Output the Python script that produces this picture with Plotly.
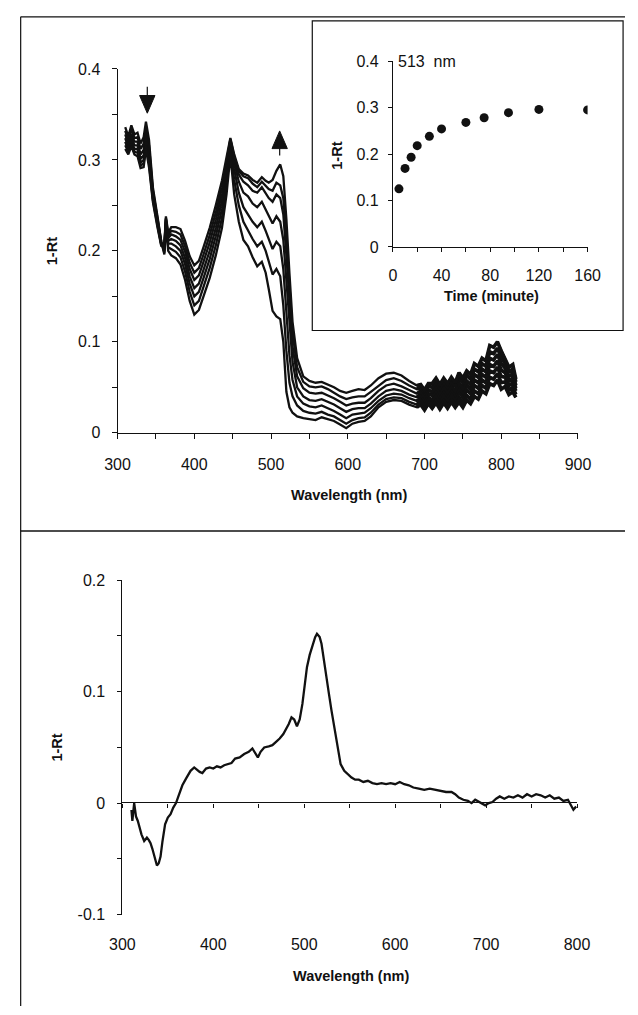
import plotly.graph_objects as go

FIG_W, FIG_H = 638, 1015

# ---------------- data: top panel (reflectance spectra at successive times) ----------------
wavelength_top = [
    310, 314, 318, 322, 326, 330, 334, 337, 341, 346,
    352, 357, 361, 363, 366, 370, 376, 382, 388, 394,
    400, 406, 412, 420, 428, 436, 442, 447, 452, 458,
    464, 470, 476, 482, 488, 493, 497, 502, 507, 512,
    516, 520, 524, 528, 534, 542, 550, 558, 566, 574,
    582, 590, 598, 606, 614, 622, 630, 640, 650, 660,
    670, 680, 690,
    695, 700, 705, 710, 715, 720, 725, 730, 735, 740,
    745, 750, 755, 760, 765, 770, 775, 780, 785, 790,
    795, 800, 805, 810, 815, 819,
]

spec_1 = [
    0.336, 0.326, 0.338, 0.328, 0.330, 0.318, 0.325, 0.342, 0.322, 0.270,
    0.238, 0.210, 0.196, 0.228, 0.200, 0.195, 0.192, 0.185, 0.168, 0.145,
    0.130, 0.135, 0.150, 0.170, 0.195, 0.225, 0.262, 0.305, 0.262, 0.232,
    0.212, 0.205, 0.193, 0.183, 0.188, 0.176, 0.158, 0.134, 0.128, 0.125,
    0.100, 0.045, 0.028, 0.022, 0.018, 0.016, 0.015, 0.014, 0.017, 0.015,
    0.013, 0.009, 0.005, 0.010, 0.012, 0.013, 0.018, 0.028, 0.034, 0.036,
    0.035, 0.031, 0.028,
    0.031, 0.025, 0.032, 0.027, 0.033, 0.026, 0.033, 0.027, 0.034, 0.028,
    0.034, 0.028, 0.036, 0.032, 0.040, 0.037, 0.046, 0.043, 0.054, 0.052,
    0.058, 0.048, 0.051, 0.042, 0.045, 0.039,
]
spec_2 = [
    0.332, 0.322, 0.334, 0.324, 0.325, 0.312, 0.318, 0.336, 0.316, 0.267,
    0.236, 0.210, 0.198, 0.230, 0.204, 0.202, 0.199, 0.193, 0.177, 0.155,
    0.140, 0.145, 0.160, 0.181, 0.206, 0.236, 0.272, 0.312, 0.278, 0.250,
    0.232, 0.222, 0.213, 0.205, 0.210, 0.200, 0.188, 0.174, 0.180, 0.172,
    0.140, 0.090, 0.055, 0.040, 0.030, 0.024, 0.022, 0.021, 0.023, 0.020,
    0.018, 0.014, 0.010, 0.014, 0.016, 0.017, 0.022, 0.031, 0.037, 0.039,
    0.038, 0.034, 0.031,
    0.035, 0.029, 0.036, 0.032, 0.038, 0.031, 0.038, 0.032, 0.039, 0.033,
    0.039, 0.033, 0.041, 0.037, 0.046, 0.043, 0.052, 0.049, 0.061, 0.059,
    0.065, 0.055, 0.056, 0.047, 0.050, 0.042,
]
spec_3 = [
    0.328, 0.318, 0.329, 0.320, 0.320, 0.306, 0.311, 0.330, 0.310, 0.264,
    0.234, 0.209, 0.200, 0.232, 0.208, 0.208, 0.205, 0.200, 0.185, 0.164,
    0.150, 0.155, 0.170, 0.191, 0.216, 0.246, 0.280, 0.317, 0.290, 0.264,
    0.248, 0.240, 0.232, 0.226, 0.232, 0.222, 0.212, 0.202, 0.210, 0.205,
    0.180, 0.130, 0.085, 0.058, 0.040, 0.032, 0.029, 0.028, 0.030, 0.027,
    0.024, 0.020, 0.016, 0.020, 0.021, 0.022, 0.027, 0.035, 0.041, 0.043,
    0.042, 0.038, 0.035,
    0.038, 0.032, 0.039, 0.036, 0.042, 0.035, 0.042, 0.036, 0.043, 0.037,
    0.045, 0.039, 0.047, 0.043, 0.052, 0.049, 0.058, 0.055, 0.068, 0.066,
    0.072, 0.062, 0.061, 0.052, 0.055, 0.046,
]
spec_4 = [
    0.324, 0.314, 0.325, 0.316, 0.316, 0.301, 0.305, 0.325, 0.305, 0.261,
    0.232, 0.208, 0.202, 0.234, 0.211, 0.213, 0.211, 0.206, 0.192, 0.172,
    0.159, 0.164, 0.179, 0.200, 0.225, 0.255, 0.287, 0.320, 0.297, 0.276,
    0.264, 0.260, 0.252, 0.248, 0.254, 0.246, 0.238, 0.230, 0.238, 0.232,
    0.212, 0.165, 0.115, 0.078, 0.050, 0.040, 0.036, 0.035, 0.037, 0.034,
    0.031, 0.027, 0.023, 0.026, 0.027, 0.027, 0.032, 0.040, 0.046, 0.048,
    0.046, 0.042, 0.039,
    0.042, 0.036, 0.043, 0.041, 0.047, 0.040, 0.047, 0.041, 0.048, 0.042,
    0.050, 0.044, 0.052, 0.048, 0.058, 0.055, 0.064, 0.061, 0.075, 0.073,
    0.079, 0.069, 0.066, 0.057, 0.060, 0.049,
]
spec_5 = [
    0.320, 0.311, 0.321, 0.312, 0.312, 0.297, 0.300, 0.320, 0.300, 0.258,
    0.230, 0.207, 0.204, 0.235, 0.214, 0.218, 0.216, 0.212, 0.199, 0.180,
    0.168, 0.173, 0.188, 0.209, 0.234, 0.263, 0.293, 0.322, 0.301, 0.284,
    0.276, 0.272, 0.266, 0.264, 0.270, 0.264, 0.258, 0.254, 0.262, 0.258,
    0.240, 0.195, 0.140, 0.095, 0.062, 0.049, 0.044, 0.043, 0.044, 0.041,
    0.038, 0.034, 0.030, 0.032, 0.033, 0.033, 0.038, 0.046, 0.052, 0.054,
    0.051, 0.047, 0.043,
    0.046, 0.040, 0.047, 0.045, 0.051, 0.044, 0.051, 0.045, 0.052, 0.046,
    0.055, 0.049, 0.057, 0.053, 0.064, 0.061, 0.070, 0.067, 0.082, 0.080,
    0.086, 0.076, 0.071, 0.062, 0.065, 0.052,
]
spec_6 = [
    0.316, 0.309, 0.318, 0.309, 0.308, 0.294, 0.296, 0.316, 0.296, 0.256,
    0.228, 0.206, 0.206, 0.236, 0.217, 0.222, 0.221, 0.218, 0.205, 0.187,
    0.176, 0.181, 0.196, 0.217, 0.242, 0.270, 0.298, 0.323, 0.304, 0.288,
    0.282, 0.280, 0.274, 0.270, 0.276, 0.272, 0.268, 0.266, 0.275, 0.272,
    0.258, 0.215, 0.160, 0.110, 0.072, 0.056, 0.051, 0.050, 0.051, 0.048,
    0.044, 0.040, 0.037, 0.039, 0.040, 0.040, 0.045, 0.052, 0.058, 0.060,
    0.057, 0.052, 0.048,
    0.050, 0.044, 0.051, 0.050, 0.056, 0.049, 0.056, 0.050, 0.057, 0.051,
    0.061, 0.055, 0.063, 0.059, 0.070, 0.067, 0.076, 0.073, 0.089, 0.087,
    0.093, 0.083, 0.076, 0.067, 0.070, 0.056,
]
spec_7 = [
    0.312, 0.306, 0.315, 0.306, 0.304, 0.291, 0.292, 0.312, 0.292, 0.254,
    0.226, 0.205, 0.208, 0.238, 0.220, 0.226, 0.226, 0.224, 0.211, 0.194,
    0.184, 0.189, 0.204, 0.225, 0.250, 0.277, 0.303, 0.324, 0.306, 0.290,
    0.285, 0.283, 0.278, 0.275, 0.281, 0.277, 0.275, 0.278, 0.288, 0.295,
    0.282, 0.235, 0.175, 0.122, 0.082, 0.062, 0.057, 0.055, 0.056, 0.053,
    0.050, 0.046, 0.044, 0.046, 0.048, 0.047, 0.052, 0.060, 0.065, 0.066,
    0.063, 0.057, 0.052,
    0.053, 0.047, 0.054, 0.054, 0.060, 0.053, 0.060, 0.054, 0.061, 0.055,
    0.066, 0.060, 0.068, 0.064, 0.076, 0.073, 0.082, 0.079, 0.096, 0.094,
    0.100, 0.090, 0.081, 0.072, 0.075, 0.059,
]
NOISY_FROM = 62  # index of 690 nm: detector noise region drawn heavier

# ---------------- data: inset (1-Rt at 513 nm vs time) ----------------
inset_time_min = [5, 10, 15, 20, 30, 40, 60, 75, 95, 120, 160]
inset_513nm = [0.125, 0.169, 0.193, 0.218, 0.238, 0.254, 0.268, 0.278, 0.289, 0.296, 0.295]

# ---------------- data: bottom panel (difference spectrum) ----------------
wavelength_diff = [
    310, 311, 313, 315, 317, 319, 321, 324, 327, 329,
    331, 333, 336, 338, 340, 342, 344, 347, 350, 353,
    356, 359, 362, 366, 370, 375, 379, 382, 385, 388,
    392, 396, 400, 404, 408, 412, 416, 420, 424, 429,
    434, 439, 443, 446, 449, 452, 456, 461, 465, 469,
    473, 477, 480, 483, 486, 489, 492, 495, 498, 501,
    503, 506, 509, 512, 514, 517, 519, 522, 524, 527,
    530, 533, 535, 538, 540, 544, 548, 552, 556, 560,
    565, 570, 575, 580, 585, 590, 595, 600, 605, 610,
    615, 620, 626, 632, 638, 644, 650, 656, 662, 666,
    670, 675, 680, 684, 688, 692, 696, 699, 703, 707,
    711, 715, 720, 725, 730, 735, 740, 745, 750, 755,
    760, 765, 770, 775, 780, 785, 790, 793, 796, 799,
]
diff_1rt = [
    -0.006, -0.016, 0.000, -0.012, -0.016, -0.022, -0.028, -0.034, -0.031, -0.033,
    -0.036, -0.041, -0.050, -0.056, -0.054, -0.048, -0.035, -0.019, -0.013, -0.010,
    -0.004, 0.000, 0.007, 0.016, 0.022, 0.029, 0.032, 0.030, 0.028, 0.027,
    0.031, 0.032, 0.031, 0.033, 0.032, 0.034, 0.035, 0.036, 0.040, 0.041,
    0.044, 0.046, 0.049, 0.045, 0.041, 0.046, 0.050, 0.051, 0.052, 0.055,
    0.058, 0.062, 0.066, 0.071, 0.077, 0.075, 0.069, 0.075, 0.089, 0.108,
    0.122, 0.133, 0.141, 0.149, 0.152, 0.149, 0.143, 0.128, 0.115, 0.099,
    0.083, 0.068, 0.057, 0.044, 0.035, 0.029, 0.026, 0.023, 0.021, 0.021,
    0.019, 0.020, 0.018, 0.017, 0.018, 0.017, 0.018, 0.017, 0.019, 0.017,
    0.016, 0.014, 0.013, 0.012, 0.013, 0.012, 0.011, 0.010, 0.010, 0.008,
    0.005, 0.003, 0.002, 0.000, 0.003, 0.001, -0.001, -0.002, 0.000, 0.001,
    0.004, 0.006, 0.004, 0.006, 0.005, 0.007, 0.005, 0.008, 0.006, 0.008,
    0.007, 0.005, 0.007, 0.004, 0.005, 0.002, 0.003, -0.002, -0.006, -0.003,
]


def X(p):
    return p / FIG_W


def Y(p):
    return 1 - p / FIG_H


FONT = "Liberation Sans, Arial, sans-serif"
BLACK = "#111111"

fig = go.Figure()

for s in [spec_1, spec_2, spec_3, spec_4, spec_5, spec_6, spec_7]:
    fig.add_trace(go.Scatter(x=wavelength_top, y=s, mode="lines",
                             line=dict(color=BLACK, width=2.3),
                             xaxis="x", yaxis="y", hoverinfo="skip"))
    fig.add_trace(go.Scatter(x=wavelength_top[NOISY_FROM:], y=s[NOISY_FROM:], mode="lines",
                             line=dict(color=BLACK, width=3.6),
                             xaxis="x", yaxis="y", hoverinfo="skip"))

fig.add_trace(go.Scatter(x=inset_time_min, y=inset_513nm, mode="markers",
                         marker=dict(color=BLACK, size=9),
                         xaxis="x2", yaxis="y2"))

fig.add_trace(go.Scatter(x=wavelength_diff, y=diff_1rt, mode="lines",
                         line=dict(color=BLACK, width=2.3),
                         xaxis="x3", yaxis="y3"))

tickfont = dict(family=FONT, size=16, color=BLACK)
common = dict(showgrid=False, zeroline=False, showline=True, linecolor=BLACK,
              linewidth=1, ticks="outside", tickcolor=BLACK, tickwidth=1,
              tickfont=tickfont)

fig.update_layout(
    width=FIG_W, height=FIG_H, autosize=False,
    margin=dict(l=0, r=0, t=0, b=0),
    paper_bgcolor="white", plot_bgcolor="rgba(0,0,0,0)",
    showlegend=False,
    xaxis=dict(**common, domain=[X(109), X(589)], range=[300, 900], anchor="y",
               dtick=100, ticklen=5, ticklabelstandoff=12,
               minor=dict(dtick=50, ticks="outside", ticklen=5, tickcolor=BLACK)),
    yaxis=dict(**common, domain=[Y(432), Y(62)], range=[0, 0.4], anchor="x",
               dtick=0.1, ticklen=5, ticklabelstandoff=8,
               minor=dict(dtick=0.05, ticks="outside", ticklen=5, tickcolor=BLACK)),
    xaxis2=dict(**common, domain=[X(396), X(599)], range=[0, 160], anchor="y2",
                dtick=40, ticklen=4, ticklabelstandoff=10,
                minor=dict(dtick=20, ticks="outside", ticklen=4, tickcolor=BLACK)),
    yaxis2=dict(**common, domain=[Y(243), Y(54)], range=[0, 0.4], anchor="x2",
                dtick=0.1, ticklen=4, ticklabelstandoff=6),
    xaxis3=dict(showgrid=False, zeroline=False, showline=False, ticks="",
                tickfont=tickfont, domain=[X(114), X(588)], range=[300, 800],
                anchor="y3", dtick=100, ticklabelstandoff=18),
    yaxis3=dict(**common, domain=[Y(922), Y(582)], range=[-0.1, 0.2], anchor="x3",
                tickvals=[-0.1, 0, 0.1, 0.2], ticktext=["-0.1", "0", "0.1", "0.2"],
                ticklen=4, ticklabelstandoff=9,
                minor=dict(dtick=0.05, ticks="outside", ticklen=4, tickcolor=BLACK)),
    xaxis4=dict(showgrid=False, zeroline=False, showline=True, linecolor=BLACK,
                linewidth=1.2, ticks="outside", ticklen=4, tickcolor=BLACK,
                showticklabels=False, domain=[X(114), X(588)], range=[300, 800],
                dtick=50, anchor="free", position=Y(808), overlaying="x3"),
)
# invisible trace so that the zero-level axis is drawn
fig.add_trace(go.Scatter(x=[300, 800], y=[0, 0], mode="lines",
                         line=dict(color="rgba(0,0,0,0)", width=0),
                         xaxis="x4", yaxis="y3", hoverinfo="skip"))

titlefont = dict(family=FONT, size=14.5, color=BLACK)
ann = [
    dict(text="<b>Wavelength (nm)</b>", x=X(350), y=Y(495)),
    dict(text="<b>1-Rt</b>", x=X(41), y=Y(247), textangle=-90),
    dict(text="<b>Time (minute)</b>", x=X(499), y=Y(293)),
    dict(text="<b>1-Rt</b>", x=X(338), y=Y(150), textangle=-90),
    dict(text="<b>Wavelength (nm)</b>", x=X(352), y=Y(984)),
    dict(text="<b>1-Rt</b>", x=X(46), y=Y(752), textangle=-90),
]
for a in ann:
    fig.add_annotation(xref="paper", yref="paper", showarrow=False,
                       xanchor="center", yanchor="middle", font=titlefont, **a)
fig.add_annotation(xref="paper", yref="paper", showarrow=False, text="513  nm",
                   x=X(399), y=Y(54), xanchor="left", yanchor="middle",
                   font=dict(family=FONT, size=16, color=BLACK))

line = dict(color=BLACK, width=1.2)
shapes = [
    # page frame / separator
    dict(type="line", x0=X(8), x1=X(8), y0=Y(9), y1=Y(1015), line=line),
    dict(type="line", x0=X(8), x1=X(638), y0=Y(9), y1=Y(9), line=line),
    dict(type="line", x0=X(8), x1=X(638), y0=Y(532), y1=Y(532), line=dict(color=BLACK, width=1.5)),
    # inset frame
    dict(type="rect", x0=X(312), x1=X(636), y0=Y(328), y1=Y(13), line=line),
    # down arrow near 337 nm
    dict(type="line", x0=X(140), x1=X(140), y0=Y(80), y1=Y(90), line=line),
    dict(type="path", path=f"M {X(132)} {Y(89)} L {X(148)} {Y(89)} L {X(140)} {Y(107)} Z",
         fillcolor=BLACK, line=dict(color=BLACK, width=1)),
    # up arrow near 513 nm
    dict(type="line", x0=X(278), x1=X(278), y0=Y(142), y1=Y(150), line=line),
    dict(type="path", path=f"M {X(270)} {Y(143)} L {X(286)} {Y(143)} L {X(278)} {Y(125)} Z",
         fillcolor=BLACK, line=dict(color=BLACK, width=1)),
]
for s in shapes:
    fig.add_shape(xref="paper", yref="paper", **s)

fig.write_html("out.html")
